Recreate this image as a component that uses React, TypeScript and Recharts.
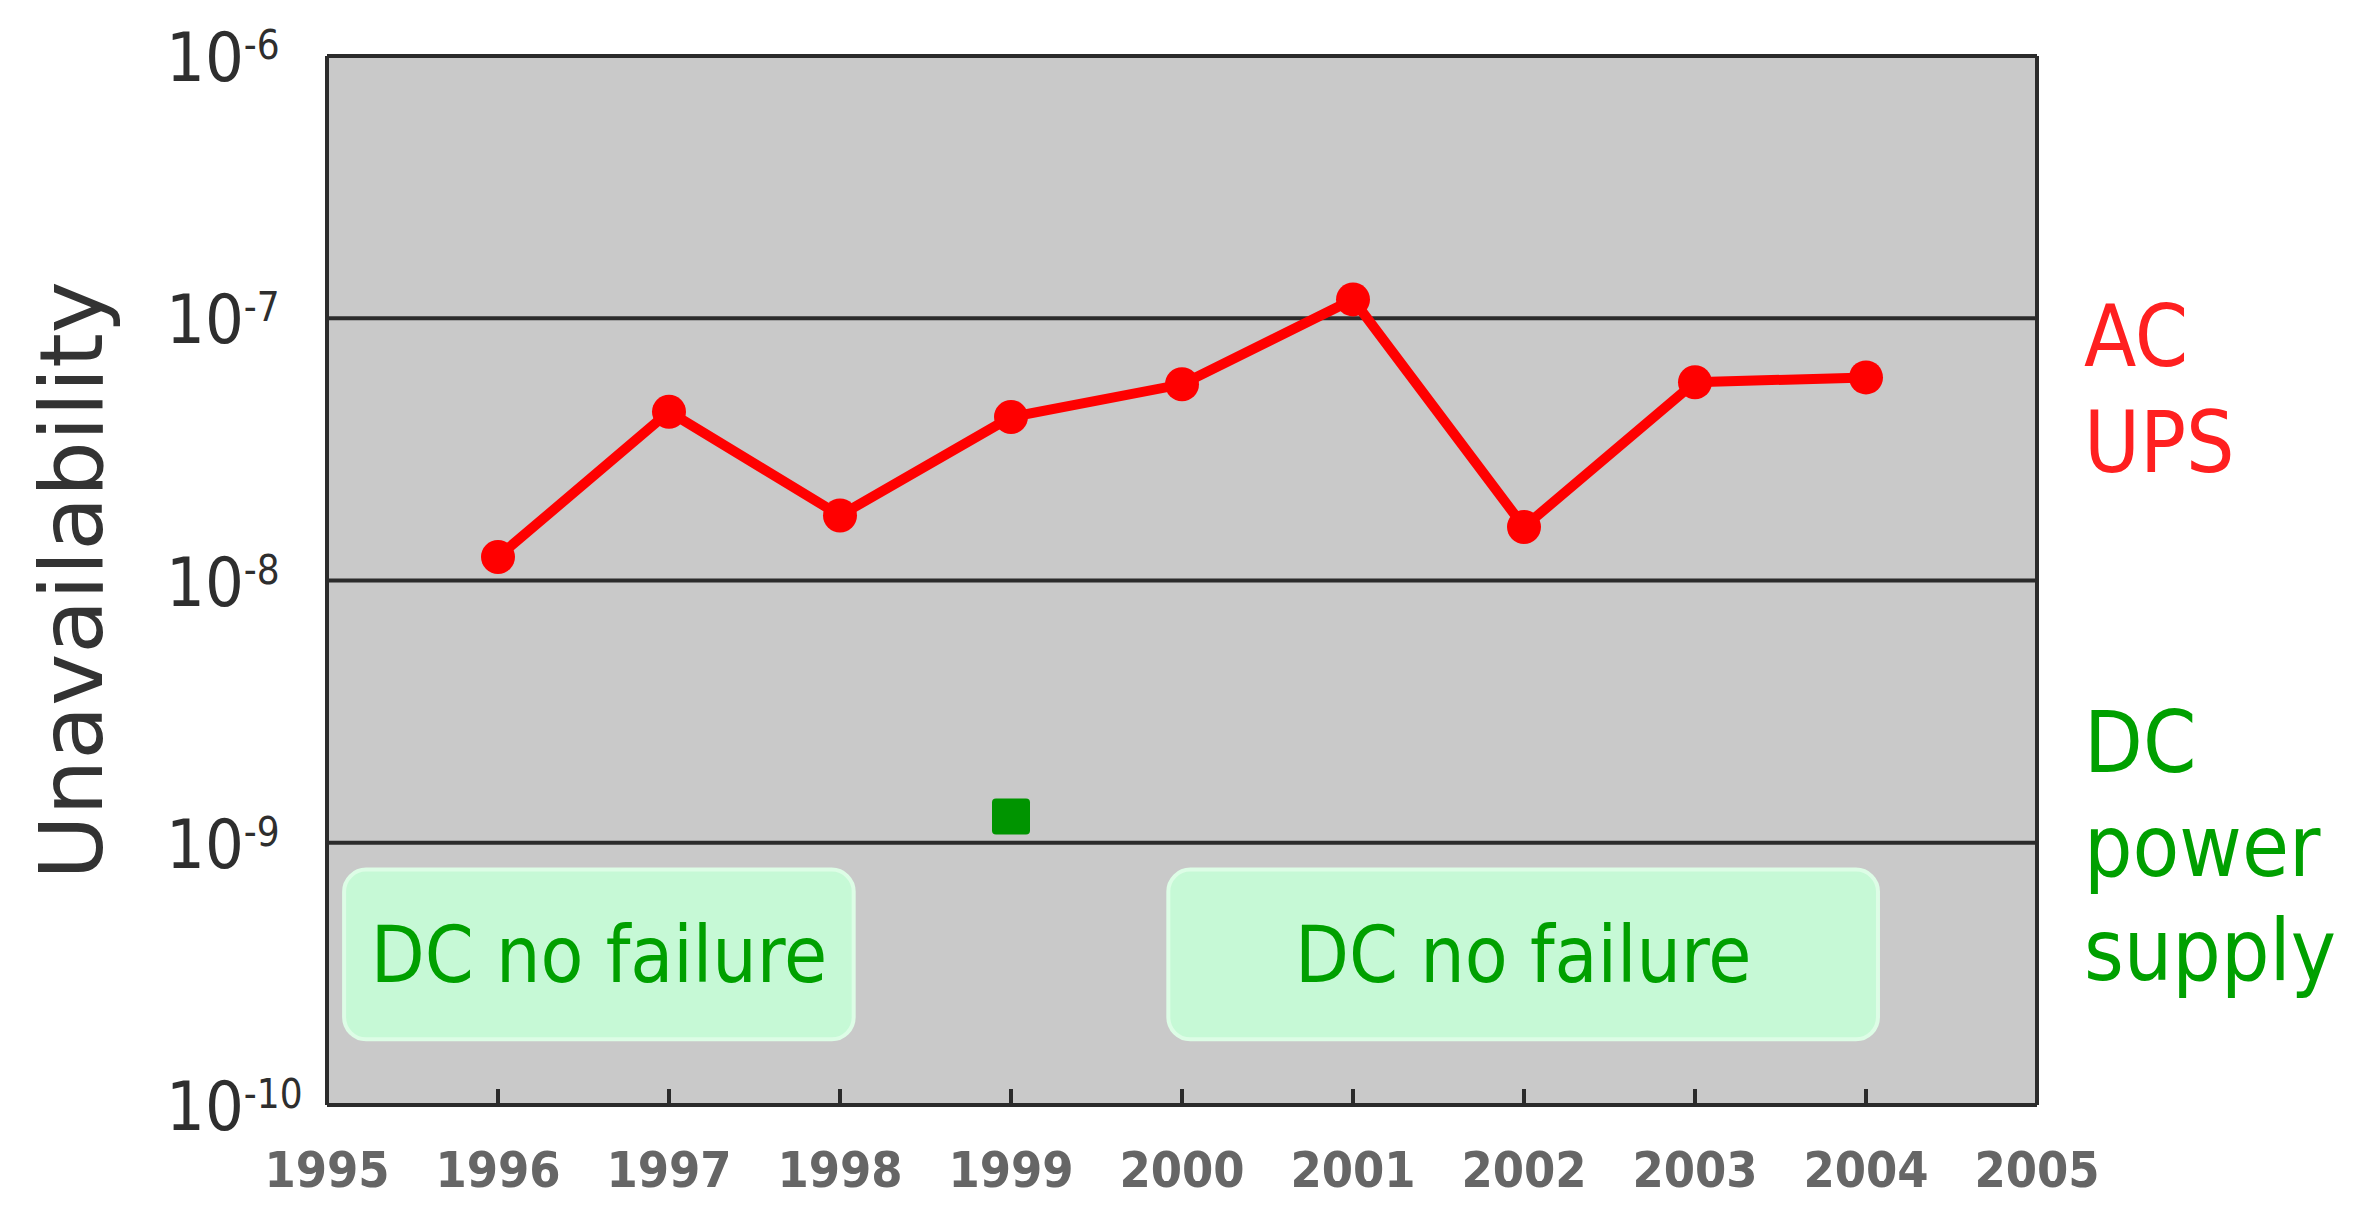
import React from "react";
import {
  ComposedChart,
  Line,
  Scatter,
  XAxis,
  YAxis,
  CartesianGrid,
  ReferenceArea,
  Customized,
} from "recharts";

const years = [1996, 1997, 1998, 1999, 2000, 2001, 2002, 2003, 2004];
const acUps = [1.23e-8, 4.4e-8, 1.77e-8, 4.2e-8, 5.6e-8, 1.18e-7, 1.6e-8, 5.7e-8, 5.95e-8];

const dcYears = [1999];
const dcValues = [1.26e-9];

const xTicks = [1995, 1996, 1997, 1998, 1999, 2000, 2001, 2002, 2003, 2004, 2005];
const yTicks = [1e-10, 1e-9, 1e-8, 1e-7, 1e-6];

// "DC no failure" boxes: [x1, x2] in years, shared y band
const noFailureSpans = [
  [1995.1, 1998.08],
  [1999.92, 2004.07],
];
const noFailureBand = [1.78e-10, 7.9e-10];

const acData = years.map((year, i) => ({ year, value: acUps[i] }));
const dcData = dcYears.map((year, i) => ({ year, value: dcValues[i] }));

const COND = "'DejaVu Sans Condensed', 'DejaVu Sans', sans-serif";
const GREEN = "#00a000";
const RED = "#ff2020";

function YTick({ x, y, payload }: any) {
  const exp = Math.round(Math.log10(payload.value));
  return (
    <text x={x - 161} y={y + 25} fill="#2e2e2e" fontFamily={COND} fontSize={68}>
      10
      <tspan dy={-22} fontSize={40}>
        {exp}
      </tspan>
    </text>
  );
}

function XTick({ x, y, payload }: any) {
  const v = payload.value;
  return (
    <g>
      {v > 1995 && v < 2005 && (
        <line x1={x} x2={x} y1={y} y2={y - 16} stroke="#2b2b2b" strokeWidth={4} />
      )}
      <text
        x={x}
        y={y + 82}
        textAnchor="middle"
        fill="#666"
        fontFamily={COND}
        fontWeight="bold"
        fontSize={50}
      >
        {v}
      </text>
    </g>
  );
}

function DcSquare({ cx, cy }: any) {
  return <rect x={cx - 19} y={cy - 18} width={38} height={36} rx={4} fill="#009400" />;
}

function RightLabels() {
  const x = 2084;
  return (
    <g fontFamily={COND} fontSize={85}>
      <text x={x} y={366} fill={RED}>AC</text>
      <text x={x} y={472} fill={RED}>UPS</text>
      <text x={x} y={772} fill={GREEN}>DC</text>
      <text x={x} y={876} fill={GREEN}>power</text>
      <text x={x} y={980} fill={GREEN}>supply</text>
    </g>
  );
}

function YTitle({ viewBox }: any) {
  const cy = viewBox.y + viewBox.height / 2;
  return (
    <text
      x={71}
      y={cy}
      transform={`rotate(-90, 71, ${cy})`}
      textAnchor="middle"
      dominantBaseline="central"
      fill="#333"
      fontFamily="'DejaVu Sans', sans-serif"
      fontSize={88}
    >
      Unavailability
    </text>
  );
}

export default function App() {
  return (
    <div style={{ position: "absolute", left: 0, top: 0, background: "#fff" }}>
      <ComposedChart
        width={2371}
        height={1227}
        margin={{ top: 56, right: 334, bottom: 0, left: 0 }}
      >
        <CartesianGrid
          fill="#c9c9c9"
          stroke="#2b2b2b"
          strokeWidth={4}
          verticalCoordinatesGenerator={({ offset }: any) => [
            offset.left,
            offset.left + offset.width,
          ]}
        />
        <XAxis
          dataKey="year"
          type="number"
          domain={[1995, 2005]}
          ticks={xTicks}
          interval={0}
          axisLine={false}
          tickLine={false}
          tickSize={0}
          tickMargin={0}
          height={122}
          tick={<XTick />}
        />
        <YAxis
          dataKey="value"
          type="number"
          scale="log"
          domain={[1e-10, 1e-6]}
          ticks={yTicks}
          allowDataOverflow
          interval={0}
          axisLine={false}
          tickLine={false}
          tickSize={0}
          tickMargin={0}
          width={327}
          tick={<YTick />}
          label={{ content: <YTitle /> } as any}
        />
        {noFailureSpans.map(([x1, x2], i) => (
          <ReferenceArea
            key={i}
            x1={x1}
            x2={x2}
            y1={noFailureBand[0]}
            y2={noFailureBand[1]}
            fill="#c6f9d6"
            fillOpacity={1}
            stroke="#ddfde6"
            strokeWidth={4}
            radius={22}
            label={{
              value: "DC no failure",
              position: "center",
              fill: GREEN,
              fontSize: 78,
              fontFamily: COND,
            }}
          />
        ))}
        <Line
          data={acData}
          dataKey="value"
          stroke="#ff0000"
          strokeWidth={10}
          dot={{ r: 17, fill: "#ff0000", stroke: "none" }}
          activeDot={false}
          isAnimationActive={false}
        />
        <Scatter
          data={dcData}
          dataKey="value"
          shape={<DcSquare />}
          isAnimationActive={false}
        />
        <Customized component={<RightLabels />} />
      </ComposedChart>
    </div>
  );
}
